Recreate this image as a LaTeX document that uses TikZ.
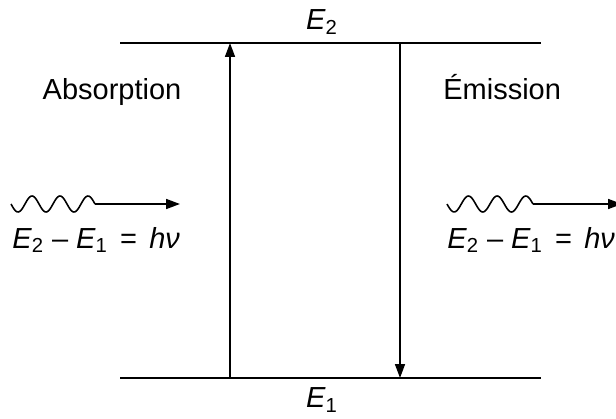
\documentclass[tikz,border=0pt]{standalone}
\usepackage{fontspec}
\setmainfont{Liberation Sans}
\usetikzlibrary{arrows.meta}

\begin{document}
\begin{tikzpicture}[x=0.02cm,y=-0.02cm,>={Triangle[length=0.28cm,width=0.2cm]},
  level/.style={line width=1.2pt},
  trans/.style={->,line width=0.9pt},
  lbl/.style={inner sep=0pt,font=\fontsize{16.5}{20}\selectfont}]
\useasboundingbox (0,0) rectangle (616,419);
% energy levels
\coordinate (e2l) at (120,43);
\coordinate (e2r) at (541,43);
\coordinate (e1l) at (120,378);
\coordinate (e1r) at (541,378);
\draw [level] (e2l) -- (e2r);
\draw [level] (e1l) -- (e1r);
\node (lE2) [lbl] at (322,22) {\textit{E}\textsubscript{2}};
\node (lE1) [lbl] at (322,400) {\textit{E}\textsubscript{1}};
% transitions
\coordinate (a1) at (230,378);
\coordinate (a2) at (230,43);
\coordinate (m1) at (400,43);
\coordinate (m2) at (400,378);
\draw [trans] (a1) -- (a2);
\draw [trans] (m1) -- (m2);
\node (abs) [lbl,anchor=base] at (112,99) {Absorption};
\node (emi) [lbl,anchor=base west] at (443,99) {Émission};
% photons
\coordinate (p1) at (11,204);
\coordinate (p1e) at (95,204);
\coordinate (p1t) at (180,204);
\draw [line width=0.9pt] plot[domain=11:95,samples=80,smooth] (\x,{204-8*sin((\x-25)/28*360)});
\draw [->,line width=0.9pt] (p1e) -- (p1t);
\coordinate (p2) at (447,204);
\coordinate (p2e) at (533,204);
\coordinate (p2t) at (622,204);
\draw [line width=0.9pt] plot[domain=447:533,samples=80,smooth] (\x,{204-8*sin((\x-461.3)/28.67*360)});
\draw [->,line width=0.9pt] (p2e) -- (p2t);
\node (eq1) [lbl,anchor=west] at (12,240) {\textit{E}\textsubscript{2}\hspace{4.5pt}–\hspace{4.5pt}\textit{E}\textsubscript{1}\hspace{7pt}=\hspace{7pt}\textit{hν}};
\node (eq2) [lbl,anchor=west] at (447,240) {\textit{E}\textsubscript{2}\hspace{4.5pt}–\hspace{4.5pt}\textit{E}\textsubscript{1}\hspace{7pt}=\hspace{7pt}\textit{hν}};
\end{tikzpicture}
\end{document}
